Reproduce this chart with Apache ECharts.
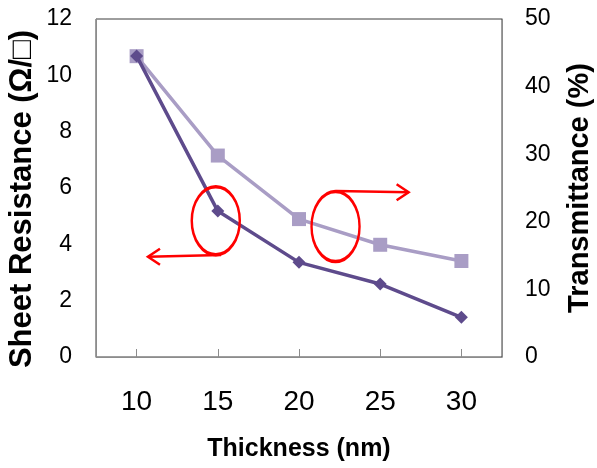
<!DOCTYPE html>
<html>
<head>
<meta charset="utf-8">
<script src="https://cdn.jsdelivr.net/npm/echarts@6/dist/echarts.min.js"></script>
<style>html,body{margin:0;padding:0;background:#fff}#c{width:597px;height:468px}</style>
</head>
<body>
<div id="c"></div>
<script>
// Data
var thickness = ['10', '15', '20', '25', '30'];
var sheetResistance = [10.69, 5.18, 3.36, 2.59, 1.41];
var transmittance = [44.5, 29.8, 20.4, 16.6, 14.2];
var leftTicks = [0, 2, 4, 6, 8, 10, 12];
var rightTicks = [0, 10, 20, 30, 40, 50];

var chart = echarts.init(document.getElementById('c'), null, {renderer: 'canvas'});
var labelFont = "'Liberation Sans Narrow', 'Liberation Sans', sans-serif";
var titleFont = "'Liberation Sans', 'DejaVu Sans', sans-serif";

chart.setOption({
  animation: false,
  backgroundColor: '#ffffff',
  grid: {left: 96, right: 95, top: 19, bottom: 111, show: true, borderColor: '#3c3c3c', borderWidth: 1,
    containLabel: false, outerBoundsMode: 'none'},
  xAxis: {
    type: 'category',
    data: thickness,
    boundaryGap: true,
    name: 'Thickness (nm)',
    nameLocation: 'middle',
    nameGap: 80,
    nameMoveOverlap: false,
    nameTextStyle: {fontFamily: titleFont, fontWeight: 'bold', fontSize: 25, color: '#000', verticalAlign: 'top'},
    axisLine: {lineStyle: {color: '#8c8c8c', width: 1}},
    axisTick: {show: true, inside: true, alignWithLabel: true, length: 8, lineStyle: {color: '#8c8c8c'}},
    axisLabel: {fontFamily: labelFont, fontSize: 28, color: '#000', margin: 31},
    splitLine: {show: false}
  },
  yAxis: [{
    type: 'value',
    min: leftTicks[0],
    max: leftTicks[leftTicks.length - 1],
    interval: leftTicks[1] - leftTicks[0],
    position: 'left',
    name: 'Sheet Resistance (Ω/□)',
    nameLocation: 'middle',
    nameRotate: 90,
    nameGap: 58,
    nameMoveOverlap: false,
    nameTextStyle: {fontFamily: titleFont, fontWeight: 'bold', fontSize: 31, color: '#000', padding: [0, 22, 0, 0]},
    axisLine: {show: true, lineStyle: {color: '#8c8c8c', width: 1}},
    axisTick: {show: false},
    axisLabel: {fontFamily: labelFont, fontSize: 23, color: '#000', margin: 24},
    splitLine: {show: false}
  }, {
    type: 'value',
    min: rightTicks[0],
    max: rightTicks[rightTicks.length - 1],
    interval: rightTicks[1] - rightTicks[0],
    position: 'right',
    name: 'Transmittance (%)',
    nameLocation: 'middle',
    nameRotate: 90,
    nameGap: 63,
    nameMoveOverlap: false,
    nameTextStyle: {fontFamily: titleFont, fontWeight: 'bold', fontSize: 29, color: '#000'},
    axisLine: {show: true, lineStyle: {color: '#8c8c8c', width: 1}},
    axisTick: {show: false},
    axisLabel: {fontFamily: labelFont, fontSize: 23, color: '#000', margin: 23},
    splitLine: {show: false}
  }],
  series: [{
    name: 'Transmittance',
    type: 'line',
    yAxisIndex: 1,
    data: transmittance,
    symbol: 'rect',
    symbolSize: 14,
    lineStyle: {color: '#a99dc5', width: 3.5},
    itemStyle: {color: '#a99dc5'},
    z: 2
  }, {
    name: 'Sheet Resistance',
    type: 'line',
    yAxisIndex: 0,
    data: sheetResistance,
    symbol: 'diamond',
    symbolSize: 13,
    lineStyle: {color: '#5e4b8c', width: 3.5},
    itemStyle: {color: '#5e4b8c'},
    z: 3
  }]
});

// Annotation anchors in (category index, left-axis value) space
function toPx(ci, v) {
  var i0 = Math.floor(ci), i1 = i0 + 1, f = ci - i0;
  var p0 = chart.convertToPixel({xAxisIndex: 0, yAxisIndex: 0}, [i0, v]);
  var p1 = chart.convertToPixel({xAxisIndex: 0, yAxisIndex: 0}, [i1, v]);
  return [p0[0] + (p1[0] - p0[0]) * f, p0[1]];
}
var red = '#ff0000';
var lc = toPx(0.975, 4.84);
var rc = toPx(2.45, 4.63);
var la0 = toPx(1.04, 3.62), la1 = toPx(0.14, 3.56);
var ra0 = toPx(2.46, 5.89), ra1 = toPx(3.35, 5.85);
function arrowHead(tip, dir) {
  return {type: 'polyline', shape: {points: [[tip[0] - dir * 12, tip[1] - 8], tip, [tip[0] - dir * 12, tip[1] + 8]]},
    style: {stroke: red, lineWidth: 2.5, fill: null}, z: 10};
}
chart.setOption({
  graphic: [
    {type: 'circle', x: lc[0], y: lc[1], scaleX: 24 / 34, shape: {cx: 0, cy: 0, r: 34}, style: {stroke: red, lineWidth: 3.5, fill: null}, z: 10},
    {type: 'circle', x: rc[0], y: rc[1], scaleX: 24 / 35, shape: {cx: 0, cy: 0, r: 35}, style: {stroke: red, lineWidth: 3.5, fill: null}, z: 10},
    {type: 'line', shape: {x1: la0[0], y1: la0[1], x2: la1[0], y2: la1[1]}, style: {stroke: red, lineWidth: 2.5}, z: 10},
    arrowHead(la1, -1),
    {type: 'line', shape: {x1: ra0[0], y1: ra0[1], x2: ra1[0], y2: ra1[1]}, style: {stroke: red, lineWidth: 2.5}, z: 10},
    arrowHead(ra1, 1)
  ]
});
</script>
</body>
</html>
